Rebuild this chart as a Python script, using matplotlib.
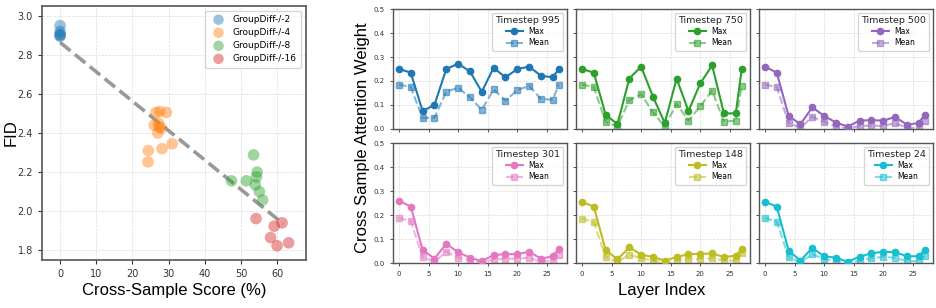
import matplotlib
matplotlib.use("Agg")
import matplotlib.pyplot as plt
import numpy as np

# left panel: cross-sample score vs FID
group_labels = ["GroupDiff-/-2", "GroupDiff-/-4", "GroupDiff-/-8", "GroupDiff-/-16"]
group_colors = ["tab:blue", "tab:orange", "tab:green", "tab:red"]
score_g2 = [0.0, 0.0, 0.0, 0.0, 0.0]
fid_g2 = [2.95, 2.92, 2.905, 2.90, 2.895]
score_g4 = [26.5, 27.6, 29.4, 26.0, 27.2, 28.0, 27.0, 24.4, 28.2, 31.0, 24.3, 27.4]
fid_g4 = [2.505, 2.51, 2.505, 2.44, 2.45, 2.425, 2.40, 2.31, 2.32, 2.345, 2.252, 2.43]
score_g8 = [47.4, 51.5, 53.5, 54.5, 54.3, 54.0, 55.1, 56.0]
fid_g8 = [2.155, 2.155, 2.288, 2.20, 2.175, 2.135, 2.10, 2.057]
score_g16 = [54.2, 59.2, 61.4, 58.2, 60.0, 63.2]
fid_g16 = [1.962, 1.923, 1.94, 1.865, 1.823, 1.838]

# right panels: attention weight per layer
layers = [0, 2, 4, 6, 8, 10, 12, 14, 16, 18, 20, 22, 24, 26, 27]
timesteps = [995, 750, 500, 301, 148, 24]
ts_colors = ["tab:blue", "tab:green", "tab:purple", "tab:pink", "tab:olive", "tab:cyan"]
max_995 = [0.25, 0.235, 0.075, 0.10, 0.25, 0.272, 0.24, 0.155, 0.255, 0.215, 0.25, 0.26, 0.222, 0.215, 0.25]
mean_995 = [0.185, 0.175, 0.045, 0.047, 0.155, 0.172, 0.132, 0.08, 0.165, 0.118, 0.162, 0.18, 0.125, 0.122, 0.185]
max_750 = [0.25, 0.235, 0.06, 0.02, 0.21, 0.26, 0.135, 0.025, 0.21, 0.075, 0.19, 0.265, 0.065, 0.065, 0.25]
mean_750 = [0.185, 0.175, 0.03, 0.01, 0.12, 0.145, 0.07, 0.01, 0.105, 0.035, 0.095, 0.16, 0.03, 0.035, 0.18]
max_500 = [0.26, 0.235, 0.055, 0.02, 0.09, 0.055, 0.027, 0.01, 0.035, 0.037, 0.035, 0.05, 0.018, 0.025, 0.06]
mean_500 = [0.185, 0.175, 0.025, 0.005, 0.05, 0.03, 0.01, 0.003, 0.012, 0.015, 0.012, 0.025, 0.005, 0.005, 0.035]
max_301 = [0.26, 0.235, 0.055, 0.018, 0.08, 0.045, 0.022, 0.008, 0.033, 0.037, 0.037, 0.047, 0.018, 0.028, 0.06]
mean_301 = [0.188, 0.175, 0.025, 0.005, 0.047, 0.022, 0.01, 0.002, 0.015, 0.018, 0.018, 0.022, 0.005, 0.01, 0.035]
max_148 = [0.255, 0.235, 0.055, 0.015, 0.065, 0.035, 0.025, 0.01, 0.025, 0.037, 0.038, 0.04, 0.025, 0.03, 0.058]
mean_148 = [0.185, 0.17, 0.025, 0.005, 0.035, 0.02, 0.01, 0.003, 0.012, 0.015, 0.017, 0.02, 0.01, 0.01, 0.04]
max_24 = [0.255, 0.235, 0.052, 0.01, 0.063, 0.028, 0.022, 0.005, 0.027, 0.04, 0.047, 0.045, 0.028, 0.028, 0.055]
mean_24 = [0.188, 0.172, 0.025, 0.003, 0.037, 0.015, 0.01, 0.002, 0.01, 0.02, 0.025, 0.022, 0.008, 0.008, 0.03]

W, H = 936, 308
SPINE = "#555555"


def px_axes(fig, x0, y0, x1, y1):
    # pixel box (top-left origin) -> figure axes
    return fig.add_axes([x0 / W, 1 - y1 / H, (x1 - x0) / W, (y1 - y0) / H])


def style_spines(ax, lw=1.0):
    for sp in ax.spines.values():
        sp.set_color(SPINE)
        sp.set_linewidth(lw)


def plot_scatter(fig):
    ax = px_axes(fig, 42, 6, 306, 260)
    groups = [(score_g2, fid_g2), (score_g4, fid_g4), (score_g8, fid_g8), (score_g16, fid_g16)]
    for (xs, ys), label, color in zip(groups, group_labels, group_colors):
        ax.scatter(xs, ys, s=70, color=color, alpha=0.45, edgecolors="none", label=label, zorder=3)

    all_x = np.concatenate([g[0] for g in groups])
    all_y = np.concatenate([g[1] for g in groups])
    slope, intercept = np.polyfit(all_x, all_y, 1)
    line_x = np.array([0.0, all_x.max() - 1.5])
    ax.plot(line_x, slope * line_x + intercept, "--", color="grey", lw=2.6, alpha=0.8, zorder=2)

    ax.set_xlim(-5, 68)
    ax.set_ylim(1.75, 3.05)
    ax.set_xticks([0, 10, 20, 30, 40, 50, 60])
    ax.set_yticks([1.8, 2.0, 2.2, 2.4, 2.6, 2.8, 3.0])
    ax.tick_params(labelsize=7, colors="#333333", length=3)
    ax.grid(True, ls="--", lw=0.5, color="#cccccc", alpha=0.7)
    style_spines(ax, 1.2)
    ax.legend(loc="upper right", fontsize=6.5, markerscale=0.9, handletextpad=0.6,
              borderpad=0.5, labelspacing=0.45)
    fig.text(174 / W, 1 - 291 / H, "Cross-Sample Score (%)", ha="center", va="center",
             fontsize=12, family="Liberation Sans")
    fig.text(11 / W, 1 - 133 / H, "FID", ha="center", va="center", rotation=90,
             fontsize=12, family="Liberation Sans")


def plot_attention(fig):
    maxes = [max_995, max_750, max_500, max_301, max_148, max_24]
    means = [mean_995, mean_750, mean_500, mean_301, mean_148, mean_24]
    col_left = [393, 576, 759]
    rows = [(9, 129), (143, 263)]
    for i, (ts, color) in enumerate(zip(timesteps, ts_colors)):
        r, c = divmod(i, 3)
        ax = px_axes(fig, col_left[c], rows[r][0], col_left[c] + 174, rows[r][1])
        ax.plot(layers, maxes[i], "-o", color=color, lw=1.5, ms=4.5, label="Max", zorder=3)
        ax.plot(layers, means[i], "--s", color=color, lw=1.5, ms=4.5, alpha=0.55, label="Mean", zorder=2)
        ax.set_xlim(-1, 28.4)
        ax.set_ylim(0, 0.5)
        ax.set_xticks([0, 5, 10, 15, 20, 25])
        ax.set_yticks([0.0, 0.1, 0.2, 0.3, 0.4, 0.5])
        ax.tick_params(labelsize=5, colors="#333333", length=2.5, width=0.6)
        if r == 0:
            ax.tick_params(labelbottom=False)
        if c > 0:
            ax.tick_params(labelleft=False)
        ax.grid(True, ls="--", lw=0.5, color="#cccccc", alpha=0.7)
        style_spines(ax, 1.0)
        leg = ax.legend(title=f"Timestep {ts}", loc="upper right", fontsize=5.5,
                        title_fontsize=6.8, borderpad=0.4, labelspacing=0.3, handlelength=2.2)
        leg.get_title().set_color("#222222")
    fig.text(362 / W, 1 - 138 / H, "Cross Sample Attention Weight", ha="center", va="center",
             rotation=90, fontsize=12, family="Liberation Sans")
    fig.text(662 / W, 1 - 291 / H, "Layer Index", ha="center", va="center",
             fontsize=12, family="Liberation Sans")


def main():
    fig = plt.figure(figsize=(W / 100, H / 100), dpi=100)
    plot_scatter(fig)
    plot_attention(fig)
    fig.savefig("out.png", dpi=100)


if __name__ == "__main__":
    main()
